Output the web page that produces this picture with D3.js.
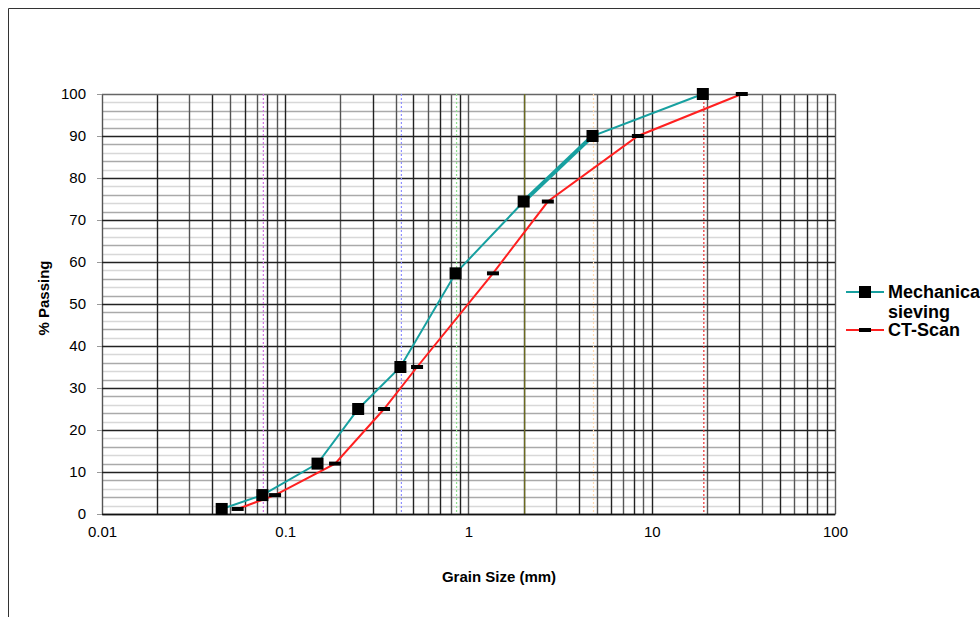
<!DOCTYPE html>
<html>
<head>
<meta charset="utf-8">
<script src="https://cdn.jsdelivr.net/npm/d3@7"></script>
<style>
  body { margin: 0; background: #fff; overflow: hidden; }
  svg { display: block; font-family: "Liberation Sans", Arial, sans-serif; }
</style>
</head>
<body>
<script>
// sieve sizes (mm) and % passing
const mechSize = [0.045, 0.075, 0.15, 0.25, 0.425, 0.85, 2, 4.75, 19];
const mechPassing = [1.2, 4.5, 12, 25, 35, 57.3, 74.4, 90, 100];

// CT-scan equivalent sizes (mm), same passing values
const ctSize = [0.055, 0.088, 0.187, 0.346, 0.524, 1.36, 2.71, 8.4, 31];
const ctPassing = [1.2, 4.5, 12, 25, 35, 57.3, 74.4, 90, 100];

const xTicks = [0.01, 0.1, 1, 10, 100];
const yTicks = [0, 10, 20, 30, 40, 50, 60, 70, 80, 90, 100];

const sieveMarks = [0.075, 0.425, 0.85, 2, 4.75, 19];
const sieveColors = ["#d070e0", "#9090ff", "#90e090", "#707020", "#ffd8b0", "#e83030"];

const width = 980;
const height = 617;
const plot = { left: 102, right: 835, top: 94, bottom: 514 };

const svg = d3
  .select("body")
  .append("svg")
  .attr("width", width)
  .attr("height", height);

// outer frame
svg
  .append("path")
  .attr("d", `M8.5 ${height} V8.5 H${width}`)
  .attr("fill", "none")
  .attr("stroke", "#333")
  .attr("stroke-width", 1);

const x = d3.scaleLog().domain([0.01, 100]).range([plot.left, plot.right]);
const y = d3.scaleLinear().domain([0, 100]).range([plot.bottom, plot.top]);

const grid = svg.append("g");

// minor horizontal grid every 2 %
d3.range(2, 100, 2)
  .filter((v) => v % 10 !== 0)
  .forEach((v) => {
    grid
      .append("line")
      .attr("x1", plot.left)
      .attr("x2", plot.right)
      .attr("y1", Math.round(y(v)) + 0.5)
      .attr("y2", Math.round(y(v)) + 0.5)
      .attr("stroke", v % 4 === 0 ? "#aaa" : "#d8d8d8")
      .attr("stroke-width", 1.3);
  });

// vertical grid, every 1..9 of each decade
const vGrid = [];
[0.01, 0.1, 1, 10].forEach((d) => {
  for (let k = 1; k <= 9; k++) vGrid.push(d * k);
});
vGrid.push(100);

grid
  .selectAll(".vgrid")
  .data(vGrid)
  .enter()
  .append("line")
  .attr("x1", (d) => Math.round(x(d)) + 0.5)
  .attr("x2", (d) => Math.round(x(d)) + 0.5)
  .attr("y1", plot.top)
  .attr("y2", plot.bottom)
  .attr("stroke", (d, i) => (i % 2 ? "#222" : "#555"))
  .attr("stroke-width", 1.4);

// major horizontal grid
grid
  .selectAll(".hgrid")
  .data(yTicks)
  .enter()
  .append("line")
  .attr("x1", plot.left)
  .attr("x2", plot.right)
  .attr("y1", (d) => Math.round(y(d)) + 0.5)
  .attr("y2", (d) => Math.round(y(d)) + 0.5)
  .attr("stroke", (d) => (d === 100 ? "#666" : "#222"))
  .attr("stroke-width", 1.3);

// sieve marker lines
grid
  .selectAll(".sieve")
  .data(sieveMarks)
  .enter()
  .append("line")
  .attr("x1", (d) => x(d) + 1)
  .attr("x2", (d) => x(d) + 1)
  .attr("y1", plot.top)
  .attr("y2", plot.bottom)
  .attr("stroke", (d, i) => sieveColors[i])
  .attr("stroke-width", 1.2)
  .attr("stroke-dasharray", (d, i) => (i === 3 ? null : "2 2"));

// axes
const yAxis = d3.axisLeft(y).tickValues(yTicks).tickSize(5).tickPadding(11);
const xAxis = d3
  .axisBottom(x)
  .tickValues(xTicks)
  .tickSize(0)
  .tickPadding(12)
  .tickFormat((d) => d);

const ya = svg
  .append("g")
  .attr("transform", `translate(${plot.left},0)`)
  .call(yAxis);
ya.select(".domain").remove();
ya.selectAll(".tick line").attr("stroke", "#999");

const xa = svg
  .append("g")
  .attr("transform", `translate(0,${plot.bottom})`)
  .call(xAxis);
xa.select(".domain").attr("stroke", "#111").attr("stroke-width", 1.5);

svg
  .selectAll(".tick text")
  .attr("font-size", 15)
  .attr("fill", "#000")
  .attr("font-family", "'Liberation Sans', Arial, sans-serif");

// series
const line = d3
  .line()
  .x((d) => x(d[0]))
  .y((d) => y(d[1]));

const mech = d3.zip(mechSize, mechPassing);
const ct = d3.zip(ctSize, ctPassing);

svg
  .append("path")
  .datum(ct)
  .attr("d", line)
  .attr("fill", "none")
  .attr("stroke", "#ff2020")
  .attr("stroke-width", 2);

svg
  .append("path")
  .datum(mech)
  .attr("d", line)
  .attr("fill", "none")
  .attr("stroke", "#17a0a0")
  .attr("stroke-width", 2);

// thicker overlapping segment between 2 and 4.75 mm
svg
  .append("path")
  .datum(mech.slice(6, 8))
  .attr("d", line)
  .attr("fill", "none")
  .attr("stroke", "#17a0a0")
  .attr("stroke-width", 4);

svg
  .selectAll(".ctmark")
  .data(ct)
  .enter()
  .append("rect")
  .attr("x", (d) => x(d[0]) - 6)
  .attr("y", (d) => y(d[1]) - 2)
  .attr("width", 12)
  .attr("height", 4)
  .attr("fill", "#000");

svg
  .selectAll(".mechmark")
  .data(mech)
  .enter()
  .append("rect")
  .attr("x", (d) => x(d[0]) - 6)
  .attr("y", (d) => y(d[1]) - 6)
  .attr("width", 12)
  .attr("height", 12)
  .attr("fill", "#000");

// axis titles
svg
  .append("text")
  .attr("x", 499)
  .attr("y", 582)
  .attr("text-anchor", "middle")
  .attr("font-size", 15)
  .attr("font-weight", "bold")
  .text("Grain Size (mm)");

svg
  .append("text")
  .attr("transform", `translate(49,298) rotate(-90)`)
  .attr("text-anchor", "middle")
  .attr("font-size", 15)
  .attr("font-weight", "bold")
  .text("% Passing");

// legend
const legend = svg.append("g").attr("transform", "translate(846,0)");

legend
  .append("line")
  .attr("x1", 0)
  .attr("x2", 38)
  .attr("y1", 292)
  .attr("y2", 292)
  .attr("stroke", "#17a0a0")
  .attr("stroke-width", 2);
legend
  .append("rect")
  .attr("x", 13)
  .attr("y", 286)
  .attr("width", 12)
  .attr("height", 12)
  .attr("fill", "#000");
legend
  .append("text")
  .attr("x", 42)
  .attr("y", 298)
  .attr("font-size", 18)
  .attr("font-weight", "bold")
  .text("Mechanical");
legend
  .append("text")
  .attr("x", 42)
  .attr("y", 318)
  .attr("font-size", 18)
  .attr("font-weight", "bold")
  .text("sieving");

legend
  .append("line")
  .attr("x1", 0)
  .attr("x2", 38)
  .attr("y1", 330)
  .attr("y2", 330)
  .attr("stroke", "#ff2020")
  .attr("stroke-width", 2);
legend
  .append("rect")
  .attr("x", 13)
  .attr("y", 328)
  .attr("width", 12)
  .attr("height", 4)
  .attr("fill", "#000");
legend
  .append("text")
  .attr("x", 42)
  .attr("y", 336)
  .attr("font-size", 18)
  .attr("font-weight", "bold")
  .text("CT-Scan");
</script>
</body>
</html>
